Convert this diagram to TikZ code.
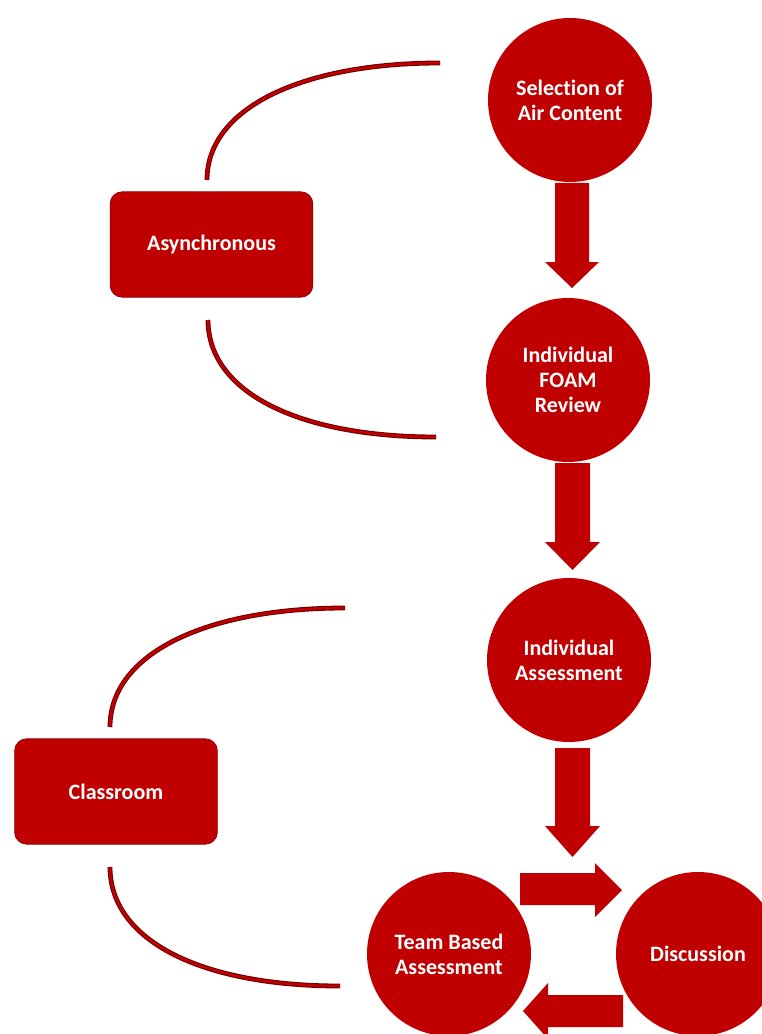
\documentclass[tikz,border=0pt]{standalone}
\usepackage{fontspec}
\setmainfont[Ligatures=NoCommon]{Carlito}
\definecolor{pptred}{HTML}{C00000}
\definecolor{arcedge}{HTML}{6A0000}
\begin{document}
\begin{tikzpicture}[x=0.75pt,y=-0.75pt,
  stage/.style={circle, fill=pptred, minimum size=123pt, inner sep=0pt, align=center,
    text=white, font=\bfseries\fontsize{16.5}{18.75}\selectfont},
  phase/.style={rectangle, rounded corners=9pt, fill=pptred, draw=pptred!75!black,
    line width=0.6pt, minimum width=152pt, minimum height=79pt, text=white,
    font=\bfseries\fontsize{16.5}{18.75}\selectfont},
  blockarrow/.style={fill=pptred},
  arcout/.style={draw=arcedge, line width=3.6pt},
  arcin/.style={draw=pptred, line width=2pt}]
\useasboundingbox (0,0) rectangle (762,1034);
\clip (0,0) rectangle (762,1034);

% stages
\node[stage] (sel) at (570,100) {Selection of\\Air Content};
\node[stage] (foam) at (568,380) {Individual\\FOAM\\Review};
\node[stage] (ind) at (569,660) {Individual\\Assessment};
\node[stage] (team) at (449,954) {Team Based\\Assessment};
\node[stage] (disc) at (698,954) {Discussion};

% phases
\node[phase] (asyn) at (211.5,244.5) {Asynchronous};
\node[phase] (class) at (116,791.5) {Classroom};

% block arrows
\fill[blockarrow] (555,183) -- (589,183) -- (589,262) -- (599,262) -- (572,288) -- (545,262) -- (555,262) -- cycle;
\fill[blockarrow] (555,463) -- (590,463) -- (590,542) -- (600,542) -- (572.5,570) -- (545,542) -- (555,542) -- cycle;
\fill[blockarrow] (555,748) -- (590,748) -- (590,826) -- (600,826) -- (572.5,857) -- (545,826) -- (555,826) -- cycle;
\fill[blockarrow] (520,873) -- (595,873) -- (595,863) -- (622,890) -- (595,917) -- (595,905) -- (520,905) -- cycle;
\fill[blockarrow] (623,995) -- (548,995) -- (548,983) -- (523,1011) -- (548,1039) -- (548,1027) -- (623,1027) -- cycle;

% bracket arcs
\coordinate (a1s) at (207,180);
\coordinate (a1e) at (440,63);
\coordinate (a2s) at (208,320);
\coordinate (a2e) at (436,437);
\coordinate (c1s) at (110,727);
\coordinate (c1e) at (345,608);
\coordinate (c2s) at (110,867);
\coordinate (c2e) at (340,986);
\foreach \s in {arcout,arcin}{
  \draw[\s] (a1s) .. controls +(0,-72) and +(-138,0) .. (a1e);
  \draw[\s] (a2s) .. controls +(0,72) and +(-138,0) .. (a2e);
  \draw[\s] (c1s) .. controls +(0,-73) and +(-140,0) .. (c1e);
  \draw[\s] (c2s) .. controls +(0,73) and +(-140,0) .. (c2e);
}
\end{tikzpicture}
\end{document}
